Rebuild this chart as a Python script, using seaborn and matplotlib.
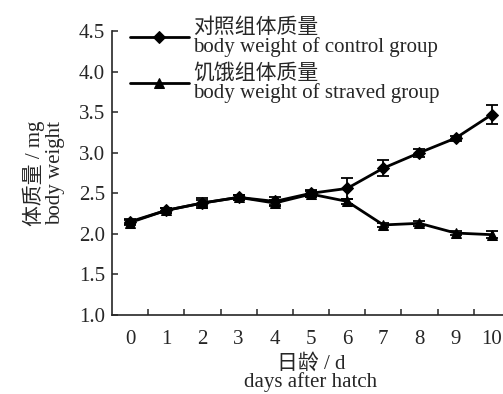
import matplotlib
matplotlib.use("Agg")
import matplotlib.pyplot as plt
import seaborn as sns
import pandas as pd

# Days after hatch and mean body weight (mg) with error
days = [0, 1, 2, 3, 4, 5, 6, 7, 8, 9, 10]
control_mean = [2.15, 2.29, 2.38, 2.45, 2.40, 2.50, 2.56, 2.81, 3.00, 3.18, 3.47]
control_err = [0.03, 0.03, 0.06, 0.03, 0.05, 0.04, 0.13, 0.10, 0.05, 0.03, 0.12]
starved_mean = [2.14, 2.29, 2.38, 2.45, 2.38, 2.49, 2.40, 2.11, 2.13, 2.01, 1.99]
starved_err = [0.03, 0.03, 0.04, 0.03, 0.04, 0.04, 0.03, 0.03, 0.03, 0.02, 0.04]

control_label = "对照组体质量\nbody weight of control group"
starved_label = "饥饿组体质量\nbody weight of straved group"

sns.set_style("ticks")
plt.rcParams['font.family'] = ['Liberation Serif', 'Noto Sans CJK SC']
plt.rcParams['axes.unicode_minus'] = False
fs = 15

df = pd.DataFrame({
    "day": days * 2,
    "weight": control_mean + starved_mean,
    "group": [control_label] * len(days) + [starved_label] * len(days),
})

fig = plt.figure(figsize=(5.03, 3.94), dpi=100)
ax = fig.add_axes([0.2227, 0.2005, 0.791, 0.7208])

sns.lineplot(data=df, x="day", y="weight", hue="group", style="group",
             markers={control_label: "D", starved_label: "^"}, dashes=False,
             palette={control_label: "black", starved_label: "black"},
             markersize=6.5, linewidth=2, markeredgecolor="black", ax=ax)

# error bars
ax.errorbar(days, control_mean, yerr=control_err, fmt="none", ecolor="black",
            elinewidth=1.3, capsize=4, capthick=1.3)
ax.errorbar(days, starved_mean, yerr=starved_err, fmt="none", ecolor="black",
            elinewidth=1.3, capsize=4, capthick=1.3)

ax.set_xlim(-0.5, 10.5)
ax.set_ylim(1.0, 4.5)
ax.set_yticks([1.0, 1.5, 2.0, 2.5, 3.0, 3.5, 4.0, 4.5])
ax.set_yticklabels(["1.0", "1.5", "2.0", "2.5", "3.0", "3.5", "4.0", "4.5"], fontsize=fs)
ax.set_xticks([d + 0.5 for d in days[:-1]])
ax.set_xticklabels([])
ax.set_xticks(days, minor=True)
ax.set_xticklabels([str(d) for d in days], minor=True, fontsize=fs)
ax.tick_params(axis="x", which="minor", length=0, pad=11)
ax.tick_params(axis="both", which="major", direction="in", length=4, width=1.1)
ax.tick_params(axis="y", pad=5)

for s in ["top", "right"]:
    ax.spines[s].set_visible(False)
for s in ["left", "bottom"]:
    ax.spines[s].set_linewidth(1.2)

ax.set_xlabel("日龄 / d\ndays after hatch", fontsize=fs, linespacing=0.95, labelpad=3)
ax.set_ylabel("体质量 / mg\nbody weight", fontsize=fs, linespacing=1.1, labelpad=10)

leg = ax.legend(loc="upper left", bbox_to_anchor=(0.025, 1.075), frameon=False,
                fontsize=fs, handlelength=2.8, handletextpad=0.2, labelspacing=0.3,
                borderaxespad=0)
for t in leg.get_texts():
    t.set_linespacing(1.0)

fig.savefig("out.png", dpi=100)
